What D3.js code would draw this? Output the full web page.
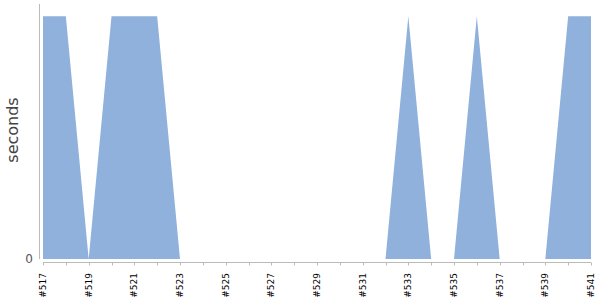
<!DOCTYPE html>
<html>
<head>
<meta charset="utf-8">
<script src="https://cdn.jsdelivr.net/npm/d3@7"></script>
<style>
  html, body { margin: 0; padding: 0; background: #fff; }
  svg { display: block; font-family: "DejaVu Sans", sans-serif; }
</style>
</head>
<body>
<div id="chart"></div>
<script>
// builds #517 .. #541
var builds = ['#517', '#518', '#519', '#520', '#521', '#522', '#523', '#524', '#525',
  '#526', '#527', '#528', '#529', '#530', '#531', '#532', '#533', '#534', '#535',
  '#536', '#537', '#538', '#539', '#540', '#541'];
var seconds = [1, 1, 0, 1, 1, 1, 0, 0, 0, 0, 0, 0, 0, 0, 0, 0, 1, 0, 0, 1, 0, 0, 0, 1, 1];
var yTicks = [0];
var yTitle = 'seconds';

var w = 600, h = 300;
var svg = d3.select('#chart').append('svg')
  .attr('width', w)
  .attr('height', h);

var x = d3.scalePoint().domain(builds).range([43, 591]);
var y = d3.scaleLinear().domain([0, d3.max(seconds) * 1.05]).range([259, 4]);

// area
var area = d3.area()
  .x(function (d, i) { return x(builds[i]); })
  .y0(y(0))
  .y1(function (d) { return y(d); });

svg.append('path')
  .datum(seconds)
  .attr('d', area)
  .attr('fill', '#8fb1db');

// y axis line + tick label
svg.append('line')
  .attr('x1', 39.5).attr('x2', 39.5)
  .attr('y1', y.range()[1]).attr('y2', y(0))
  .attr('stroke', '#bbb');

svg.selectAll('.ytick')
  .data(yTicks)
  .join('text')
  .attr('class', 'ytick')
  .attr('x', 33)
  .attr('y', function (d) { return y(d); })
  .attr('dy', '0.35em')
  .attr('text-anchor', 'end')
  .attr('font-size', '12px')
  .attr('fill', '#555')
  .text(function (d) { return d; });

svg.append('text')
  .attr('transform', 'translate(18,' + 130 + ') rotate(-90)')
  .attr('text-anchor', 'middle')
  .attr('font-size', '16px')
  .attr('fill', '#444')
  .text(yTitle);

// x axis
var axisY = 262.5;
svg.append('line')
  .attr('x1', x.range()[0]).attr('x2', x.range()[1])
  .attr('y1', axisY).attr('y2', axisY)
  .attr('stroke', '#bbb');

svg.selectAll('.xtick')
  .data(builds)
  .join('line')
  .attr('class', 'xtick')
  .attr('x1', function (d) { return Math.round(x(d)) + 0.5; })
  .attr('x2', function (d) { return Math.round(x(d)) + 0.5; })
  .attr('y1', axisY).attr('y2', axisY + 3)
  .attr('stroke', '#bbb');

svg.selectAll('.xlabel')
  .data(builds.filter(function (d, i) { return i % 2 === 0; }))
  .join('text')
  .attr('class', 'xlabel')
  .attr('transform', function (d) {
    return 'translate(' + x(d) + ',' + (axisY + 10.5) + ') rotate(-90)';
  })
  .attr('dy', '0.35em')
  .attr('text-anchor', 'end')
  .attr('font-size', '9px')
  .attr('fill', '#000')
  .text(function (d) { return d; });
</script>
</body>
</html>
